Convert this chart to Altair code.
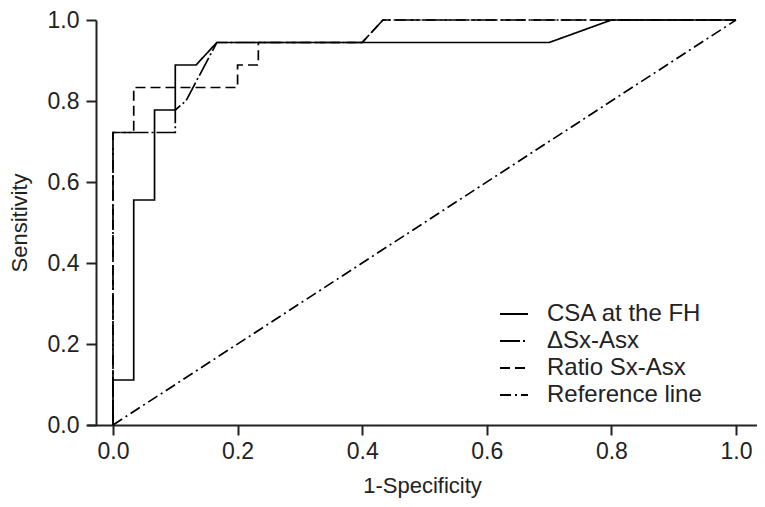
import altair as alt
import pandas as pd

series_names = ["CSA at the FH", "ΔSx-Asx", "Ratio Sx-Asx", "Reference line"]

csa_x = [0.0, 0.0, 0.0333, 0.0333, 0.0667, 0.0667, 0.1, 0.1, 0.1333, 0.1667, 0.7, 0.8, 1.0]
csa_y = [0.0, 0.1111, 0.1111, 0.5556, 0.5556, 0.7778, 0.7778, 0.8889, 0.8889, 0.9444, 0.9444, 1.0, 1.0]

dsx_x = [0.0, 0.0, 0.1, 0.1, 0.117, 0.1667, 0.4, 0.4333, 1.0]
dsx_y = [0.0, 0.7222, 0.7222, 0.7778, 0.80, 0.9444, 0.9444, 1.0, 1.0]

ratio_x = [0.0, 0.0, 0.0333, 0.0333, 0.2, 0.2, 0.2333, 0.2333, 0.4, 0.4333, 1.0]
ratio_y = [0.0, 0.7222, 0.7222, 0.8333, 0.8333, 0.8889, 0.8889, 0.9444, 0.9444, 1.0, 1.0]

ref_x = [0.0, 1.0]
ref_y = [0.0, 1.0]

rows = []
for name, xs, ys in [
    ("Reference line", ref_x, ref_y),
    ("Ratio Sx-Asx", ratio_x, ratio_y),
    ("ΔSx-Asx", dsx_x, dsx_y),
    ("CSA at the FH", csa_x, csa_y),
]:
    for i, (xv, yv) in enumerate(zip(xs, ys)):
        rows.append({"series": name, "x": xv, "y": yv, "ord": i})
df = pd.DataFrame(rows)

dash_range = [[1, 0], [20, 3, 2, 3], [10, 5], [11, 4, 2, 4]]

chart = alt.Chart(df).mark_line(color="black", strokeWidth=1.7, clip=False).encode(
    x=alt.X("x:Q",
            scale=alt.Scale(domain=[-0.0417, 1.0337], nice=False, zero=False),
            axis=alt.Axis(values=[0, 0.2, 0.4, 0.6, 0.8, 1.0], format=".1f",
                          title="1-Specificity", grid=False, tickSize=10,
                          labelPadding=5, titlePadding=12)),
    y=alt.Y("y:Q",
            scale=alt.Scale(domain=[0, 1], nice=False),
            axis=alt.Axis(values=[0, 0.2, 0.4, 0.6, 0.8, 1.0], format=".1f",
                          title="Sensitivity", grid=False, tickSize=10, offset=-9,
                          labelPadding=7, titlePadding=16)),
    strokeDash=alt.StrokeDash("series:N",
                              scale=alt.Scale(domain=series_names, range=dash_range),
                              legend=alt.Legend(title=None, orient="none",
                                                legendX=412, legendY=279,
                                                symbolType="stroke", symbolSize=784,
                                                symbolStrokeWidth=2, symbolStrokeColor="black",
                                                labelFontSize=24, labelFont="Liberation Sans",
                                                labelColor="#222222", labelOffset=18,
                                                labelLimit=300,
                                                rowPadding=-1, padding=0)),
    order="ord:Q",
).properties(
    width=670, height=405,
    padding={"left": 79, "top": 12, "right": 0, "bottom": 74},
    autosize="none",
).configure_view(stroke=None).configure_axis(
    domainColor="#222222", domainWidth=2, tickColor="#222222", tickWidth=2,
    labelFont="Liberation Sans", labelFontSize=23, labelColor="#222222",
    titleFont="Liberation Sans", titleFontSize=22, titleColor="#222222",
    titleFontWeight="normal",
)

chart.save("out.html", embed_options={"renderer": "svg", "actions": False})
